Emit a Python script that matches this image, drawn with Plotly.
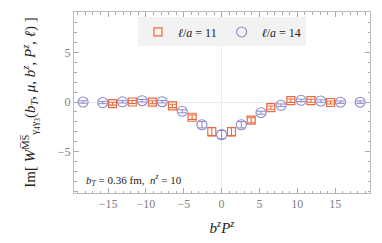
import plotly.graph_objects as go

# l/a = 11 (orange squares)
x11 = [-14.4, -11.8, -9.15, -6.5, -3.9, -1.3, 1.3, 3.9, 6.5, 9.15, 11.8, 14.4]
y11 = [-0.17, 0.0, -0.02, -0.4, -1.54, -3.0, -3.0, -1.84, -0.57, 0.13, 0.13, -0.05]
e11 = [0.15, 0.15, 0.15, 0.17, 0.22, 0.42, 0.42, 0.25, 0.17, 0.17, 0.15, 0.15]

# l/a = 14 (purple circles)
x14 = [-18.3, -15.7, -13.1, -10.5, -7.85, -5.2, -2.6, 0.0, 2.6, 5.2, 7.85, 10.5, 13.1, 15.7, 18.3]
y14 = [0.0, -0.05, 0.02, 0.13, 0.03, -0.94, -2.3, -3.3, -2.3, -1.08, -0.33, 0.17, 0.1, -0.02, -0.02]
e14 = [0.12, 0.12, 0.12, 0.12, 0.12, 0.15, 0.32, 0.42, 0.32, 0.15, 0.13, 0.12, 0.12, 0.12, 0.12]

orange = "#EC6A3E"
purple = "#8C88CC"
serif = "Liberation Serif"

fig = go.Figure()
fig.add_trace(go.Scatter(
    x=x11, y=y11, mode="markers", name="<i>ℓ</i>/<i>a</i> = 11",
    marker=dict(symbol="square-open", size=8, color=orange, line=dict(width=1.2)),
    error_y=dict(type="data", array=e11, color=orange, thickness=1.1, width=4),
))
fig.add_trace(go.Scatter(
    x=x14, y=y14, mode="markers", name="<i>ℓ</i>/<i>a</i> = 14",
    marker=dict(symbol="circle-open", size=10, color=purple, line=dict(width=1.1)),
    error_y=dict(type="data", array=e14, color=purple, thickness=1.0, width=4),
))

axis_common = dict(
    showline=True, linecolor="#BBBBBB", linewidth=1, mirror="allticks",
    ticks="inside", ticklen=5, tickcolor="#AAAAAA",
    showgrid=False, zeroline=True, zerolinecolor="#EBEBEB", zerolinewidth=1,
    tickfont=dict(family=serif, size=12, color="#808080"),
    minor=dict(ticks="inside", ticklen=2.5, dtick=1, tickcolor="#AAAAAA"),
    automargin=False,
)

fig.update_xaxes(range=[-19.5, 19.6], tickvals=[-15, -10, -5, 0, 5, 10, 15],
                 ticktext=["−15", "−10", "−5", "0", "5", "10", "15"],
                 title=dict(text="<i>b<sup>z</sup>P<sup>z</sup></i>", font=dict(family=serif, size=15, color="#222222"), standoff=12),
                 **axis_common)
fig.update_yaxes(range=[-9.2, 9.1], tickvals=[-5, 0, 5], ticktext=["−5", "0", "5"],
                 title=dict(text="Im[ <i>W</i><sup>M̅S̅</sup><sub>γ<sub>4</sub>γ<sub>3</sub></sub>(<i>b<sub>T</sub></i>, <i>μ</i>, <i>b<sup>z</sup></i>, <i>P<sup>z</sup></i>, <i>ℓ</i>) ]",
                            font=dict(family=serif, size=15, color="#222222"), standoff=18),
                 **axis_common)

fig.add_annotation(
    xref="paper", yref="paper", x=0.035, y=0.07, xanchor="left", yanchor="middle",
    text="<i>b<sub>T</sub></i> = 0.36 fm,  <i>n<sup>z</sup></i> = 10",
    showarrow=False, font=dict(family=serif, size=11, color="#222222"),
)

fig.update_layout(
    width=382, height=243,
    margin=dict(l=74, r=12, t=12, b=50),
    paper_bgcolor="white", plot_bgcolor="white",
    showlegend=True,
    legend=dict(orientation="h", x=0.5, xanchor="center", y=0.97, yanchor="top",
                bgcolor="#F2F2F2", font=dict(family=serif, size=12, color="#222222"),
                itemwidth=30, tracegroupgap=0),
)

fig.write_html("out.html", config={"displayModeBar": False},
               post_script="document.body.style.margin='0';document.body.style.overflow='hidden';")
